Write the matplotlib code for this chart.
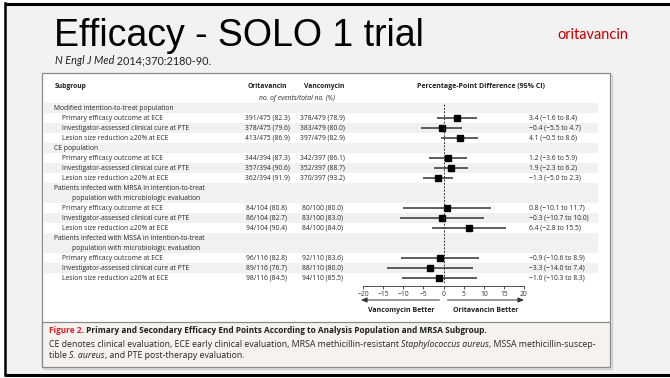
import matplotlib
matplotlib.use("Agg")
import matplotlib.pyplot as plt
from matplotlib.patches import Rectangle

# ---- data ----
groups = ["Modified intention-to-treat population",
          "CE population",
          "Patients infected with MRSA in intention-to-treat\npopulation with microbiologic evaluation",
          "Patients infected with MSSA in intention-to-treat\npopulation with microbiologic evaluation"]
endpoints = ["Primary efficacy outcome at ECE",
             "Investigator-assessed clinical cure at PTE",
             "Lesion size reduction \u226520% at ECE"]
orita = ["391/475 (82.3)", "378/475 (79.6)", "413/475 (86.9)",
         "344/394 (87.3)", "357/394 (90.6)", "362/394 (91.9)",
         "84/104 (80.8)", "86/104 (82.7)", "94/104 (90.4)",
         "96/116 (82.8)", "89/116 (76.7)", "98/116 (84.5)"]
vanco = ["378/479 (78.9)", "383/479 (80.0)", "397/479 (82.9)",
         "342/397 (86.1)", "352/397 (88.7)", "370/397 (93.2)",
         "80/100 (80.0)", "83/100 (83.0)", "84/100 (84.0)",
         "92/110 (83.6)", "88/110 (80.0)", "94/110 (85.5)"]
diff = [3.4, -0.4, 4.1, 1.2, 1.9, -1.3, 0.8, -0.3, 6.4, -0.9, -3.3, -1.0]
ci_lo = [-1.6, -5.5, -0.5, -3.6, -2.3, -5.0, -10.1, -10.7, -2.8, -10.6, -14.0, -10.3]
ci_hi = [8.4, 4.7, 8.6, 5.9, 6.2, 2.3, 11.7, 10.0, 15.5, 8.9, 7.4, 8.3]
xticks = [-20, -15, -10, -5, 0, 5, 10, 15, 20]

BODY = "Open Sans"
TXT = "#262626"
W, H = 670, 378


def fmt(v):
    return f"{v:.1f}".replace("-", "\u2212")


# slot layout: header lines then three endpoint rows per group
header_slots, row_slots = [], []
s = 0
for g in groups:
    n = g.count("\n") + 1
    header_slots.append(list(range(s, s + n)))
    s += n
    for k in range(3):
        row_slots.append(s)
        s += 1
n_slots = s

fig = plt.figure(figsize=(W / 100, H / 100), dpi=100)
fig.patch.set_facecolor("white")
rend = fig.canvas.get_renderer()


def fit_size(text, width, **kw):
    # font size that makes `text` about `width` pixels wide
    t = fig.text(0, 0, text, fontsize=10, **kw)
    w = t.get_window_extent(rend).width
    t.remove()
    return 10 * width / w


fs = fit_size("Primary efficacy outcome at ECE", 101, family="Open Sans")
cfs = fit_size("CE denotes clinical evaluation, ECE early clinical evaluation, MRSA "
               "methicillin-resistant Staphylococcus aureus, MSSA methicillin-suscep-",
               552, family="Open Sans")
cap_title = ("Figure 2. Primary and Secondary Efficacy End Points According to Analysis "
             "Population and MRSA Subgroup.")
bfs = fit_size(cap_title, 437, family="Open Sans", weight="bold")

bg = fig.add_axes([0, 0, 1, 1])
bg.set_xlim(0, W)
bg.set_ylim(H, 0)
bg.axis("off")

# slide background and black frame
bg.add_patch(Rectangle((5, 4), W, 370, facecolor="#f2f2f2", edgecolor="none"))
bg.plot([5, W], [3.5, 3.5], color="black", lw=2.2, solid_capstyle="butt")
bg.plot([5, W], [374.5, 374.5], color="black", lw=2.2, solid_capstyle="butt")
bg.plot([5, 5], [3, 375], color="black", lw=1.8)

# title block
bg.text(54, 46, "Efficacy - SOLO 1 trial", fontsize=27, family="Liberation Sans",
        color="black", va="baseline")
bg.text(557, 35, "oritavancin", fontsize=fit_size("oritavancin", 71, family="Lato"),
        family="Lato", color="#c00000", va="center")
sfs = fit_size("N Engl J Med 2014;370:2180-90.", 160, family="Lato")
t1 = bg.text(55, 61, "N Engl J Med", fontsize=sfs, family="Lato", style="italic",
             color="#222222", va="center")
bg.annotate(" 2014;370:2180-90.", xy=(1, 0), xycoords=t1, va="bottom",
            fontsize=sfs, family="Lato", color="#222222")

# figure panel
bg.add_patch(Rectangle((44, 75), 568, 294, facecolor="none", edgecolor="#d0d0d0", lw=1))
bg.add_patch(Rectangle((42, 73), 568, 294, facecolor="white", edgecolor="#8a8a8a", lw=0.9))
bg.add_patch(Rectangle((42, 322), 568, 45, facecolor="#f6f2ee", edgecolor="#8a8a8a", lw=0.9))

bg.text(55, 87, "Subgroup", fontsize=fs, family=BODY, weight="bold", color="#1e1e1e",
        va="center")
bg.text(267, 87, "Oritavancin", fontsize=fs, family=BODY, weight="bold", color="#1e1e1e",
        va="center", ha="center")
bg.text(324, 87, "Vancomycin", fontsize=fs, family=BODY, weight="bold", color="#1e1e1e",
        va="center", ha="center")
bg.text(297, 98, "no. of events/total no. (%)", fontsize=fs, family=BODY, style="italic",
        color=TXT, va="center", ha="center")
bg.text(481, 87, "Percentage-Point Difference (95% CI)", fontsize=fs * 1.05, family=BODY,
        weight="bold", color="#1e1e1e", va="center", ha="center")

# table rows
top_px, bot_px = 103, 283
box = [0, 1 - bot_px / H, 1, (bot_px - top_px) / H]
tab = fig.add_axes(box, facecolor="none")
tab.set_xlim(0, W)
tab.set_ylim(n_slots - 0.5, -0.5)
tab.axis("off")

for g, hs in zip(groups, header_slots):
    tab.add_patch(Rectangle((44, hs[0] - 0.5), 554, len(hs), facecolor="#f1f1f1",
                            edgecolor="none"))
    for i, line in enumerate(g.split("\n")):
        tab.text(54 if i == 0 else 72, hs[i], line, fontsize=fs, family=BODY,
                 color=TXT, va="center")

for i, r in enumerate(row_slots):
    if i % 3 == 1:
        tab.add_patch(Rectangle((44, r - 0.5), 554, 1, facecolor="#f1f1f1",
                                edgecolor="none"))
    tab.text(62, r, endpoints[i % 3], fontsize=fs, family=BODY, color=TXT, va="center")
    tab.text(267, r, orita[i], fontsize=fs, family=BODY, color=TXT, va="center", ha="center")
    tab.text(322, r, vanco[i], fontsize=fs, family=BODY, color=TXT, va="center", ha="center")
    tab.text(529, r, f"{fmt(diff[i])} ({fmt(ci_lo[i])} to {fmt(ci_hi[i])})", fontsize=fs,
             family=BODY, color=TXT, va="center")

# forest plot
fx = fig.add_axes([363 / W, box[1], 161 / W, box[3]], facecolor="none")
fx.set_xlim(-20, 20)
fx.set_ylim(n_slots - 0.5, -0.5)
fx.hlines(row_slots, ci_lo, ci_hi, color="#333333", lw=1.1)
fx.plot(diff, row_slots, "s", ms=4.5, color="black")
fx.axvline(0, color="#333333", lw=0.7, ls=(0, (2, 1.5)))
for side in ["left", "right", "top"]:
    fx.spines[side].set_visible(False)
fx.spines["bottom"].set_position(("outward", 2.5))
fx.spines["bottom"].set_linewidth(0.6)
fx.spines["bottom"].set_color("#333333")
fx.set_yticks([])
fx.set_xticks(xticks)
fx.set_xticklabels([str(t).replace("-", "\u2212") for t in xticks])
fx.tick_params(axis="x", length=2, width=0.6, pad=1, labelsize=fs, colors="#333333")
for lab in fx.get_xticklabels():
    lab.set_family(BODY)

arrow = dict(arrowstyle="-|>,head_length=0.35,head_width=0.15", color="#333333", lw=0.7,
             shrinkA=0, shrinkB=0)
fx.annotate("", xy=(-20.5, 300), xytext=(-1, 300), xycoords=(fx.transData, bg.transData),
            textcoords=(fx.transData, bg.transData), arrowprops=arrow)
fx.annotate("", xy=(20, 300), xytext=(1, 300), xycoords=(fx.transData, bg.transData),
            textcoords=(fx.transData, bg.transData), arrowprops=arrow)
fx.annotate("Vancomycin Better", xy=(-10.5, 310), xycoords=(fx.transData, bg.transData),
            ha="center", va="center", fontsize=fs * 1.05, family=BODY, weight="bold",
            color="#1e1e1e")
fx.annotate("Oritavancin Better", xy=(10.5, 310), xycoords=(fx.transData, bg.transData),
            ha="center", va="center", fontsize=fs * 1.05, family=BODY, weight="bold",
            color="#1e1e1e")

# caption
c1 = bg.text(49, 333, "Figure 2.", fontsize=bfs, family=BODY, weight="bold",
             color="#d2232a", va="baseline")
bg.annotate(" Primary and Secondary Efficacy End Points According to Analysis Population "
            "and MRSA Subgroup.", xy=(1, 0), xycoords=c1, va="bottom", fontsize=bfs,
            family=BODY, weight="bold", color="#1e1e1e")
a = bg.text(49, 347, "CE denotes clinical evaluation, ECE early clinical evaluation, MRSA "
            "methicillin-resistant ", fontsize=cfs, family=BODY, color=TXT, va="baseline")
b = bg.annotate("Staphylococcus aureus", xy=(1, 0), xycoords=a, va="bottom", fontsize=cfs,
                family=BODY, style="italic", color=TXT)
bg.annotate(", MSSA methicillin-suscep-", xy=(1, 0), xycoords=b, va="bottom", fontsize=cfs,
            family=BODY, color=TXT)
a = bg.text(49, 358, "tible ", fontsize=cfs, family=BODY, color=TXT, va="baseline")
b = bg.annotate("S. aureus", xy=(1, 0), xycoords=a, va="bottom", fontsize=cfs,
                family=BODY, style="italic", color=TXT)
bg.annotate(", and PTE post-therapy evaluation.", xy=(1, 0), xycoords=b, va="bottom",
            fontsize=cfs, family=BODY, color=TXT)

fig.savefig("out.png", dpi=100)
